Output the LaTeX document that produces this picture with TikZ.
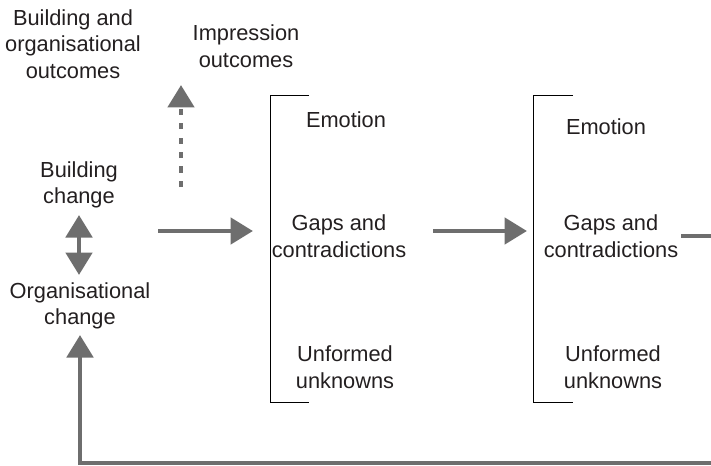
\documentclass[tikz,border=0pt]{standalone}
\usepackage{fontspec}
\setmainfont{Liberation Sans}
\usetikzlibrary{arrows.meta}
\definecolor{arrowgray}{HTML}{6E6E6E}
\definecolor{textgray}{HTML}{231F20}

\begin{document}
\begin{tikzpicture}[x=0.025cm,y=-0.025cm,
  txt/.style={align=center,inner sep=0pt,text=textgray,
    font=\fontsize{15.5}{19}\selectfont},
  flow/.style={draw=arrowgray,line width=3.5pt,
    -{Triangle[length=16pt,width=18.5pt]}},
  twoway/.style={flow,{Triangle[length=16pt,width=18.5pt]}-{Triangle[length=16pt,width=18.5pt]}},
  dotted flow/.style={flow,dash pattern=on 4.3pt off 6pt},
  bracket/.style={draw=black,line width=0.7pt}]
  \useasboundingbox (0,0) rectangle (711,466);

  \node[txt] (outcomes) at (73,44) {Building and\\organisational\\outcomes};
  \node[txt] (impression) at (246,46) {Impression\\outcomes};
  \node[txt] (building) at (79,185) {Building\\change};
  \node[txt] (organisational) at (80,306) {Organisational\\change};

  \node[txt] (emotionA) at (346,120) {Emotion};
  \node[txt] (gapsA) at (339,236) {Gaps and\\contradictions};
  \node[txt] (unformedA) at (345,367) {Unformed\\unknowns};

  \node[txt] (emotionB) at (606,127) {Emotion};
  \node[txt] (gapsB) at (611,236) {Gaps and\\contradictions};
  \node[txt] (unformedB) at (613,367) {Unformed\\unknowns};

  \draw[bracket] (309,95) -- (270,95) -- (270,402) -- (309,402);
  \draw[bracket] (573,95) -- (533,95) -- (533,402) -- (573,402);

  \coordinate (B1) at (79,215);
  \coordinate (O1) at (79,275);
  \draw[twoway] (B1) -- (O1);

  \coordinate (D0) at (181,187);
  \coordinate (D1) at (181,85);
  \draw[dotted flow] (D0) -- (D1);

  \coordinate (A0) at (158,231);
  \coordinate (A1) at (253,231);
  \draw[flow] (A0) -- (A1);

  \coordinate (C0) at (433,231);
  \coordinate (C1) at (527,231);
  \draw[flow] (C0) -- (C1);

  \coordinate (E0) at (681,236);
  \coordinate (E1) at (711,236);
  \draw[draw=arrowgray,line width=3.5pt] (E0) -- (E1);

  \coordinate (F0) at (711,463);
  \coordinate (F1) at (80,463);
  \coordinate (F2) at (80,335);
  \draw[flow] (F0) -- (F1) -- (F2);
\end{tikzpicture}
\end{document}
